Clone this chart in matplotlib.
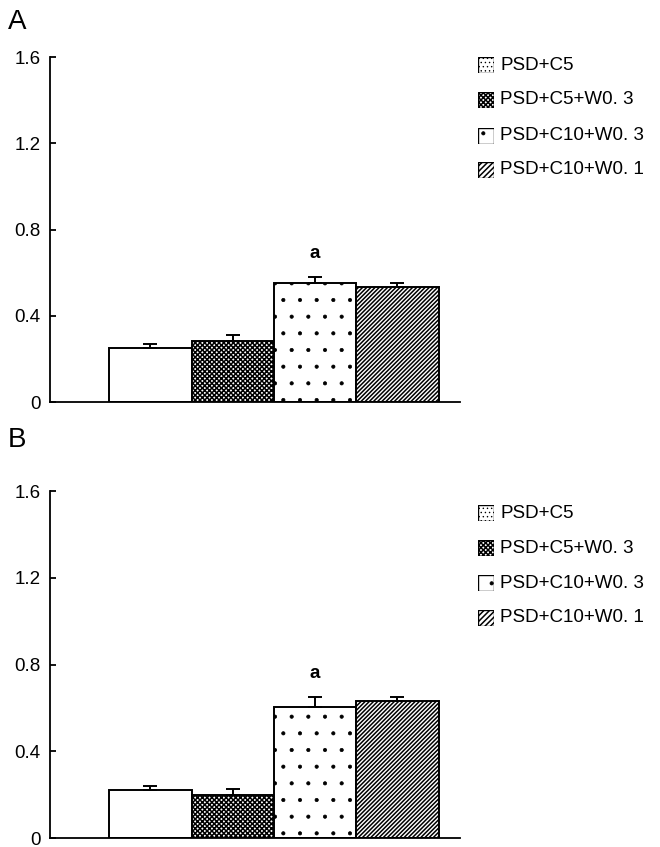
import matplotlib
matplotlib.use("Agg")
import matplotlib.pyplot as plt
import numpy as np

plt.rcParams['font.family'] = ['Liberation Sans', 'DejaVu Sans']
plt.rcParams['hatch.linewidth'] = 1.1

groups = ["PSD+C5", "PSD+C5+W0. 3", "PSD+C10+W0. 3", "PSD+C10+W0. 1"]
bar_hatches = ["", "xxxxxxx", ".", "////////"]
legend_hatches = ["....", "xxxxxxx", ".", "//////"]

values_A = [0.25, 0.284, 0.55, 0.532]
errors_A = [0.02, 0.026, 0.03, 0.021]
values_B = [0.222, 0.20, 0.605, 0.63]
errors_B = [0.018, 0.027, 0.045, 0.02]
sig_label = "a"
sig_index = 2
sig_y_A = 0.69
sig_y_B = 0.76

yticks = [0, 0.4, 0.8, 1.2, 1.6]
yticklabels = ["0", "0.4", "0.8", "1.2", "1.6"]

fig = plt.figure(figsize=(6.6, 8.47), dpi=100)

W, H = 660, 847
def axrect(l, r, b, t):
    return [l / W, 1 - b / H, (r - l) / W, (b - t) / H]

panels = [
    ("A", values_A, errors_A, sig_y_A, axrect(50, 460, 402, 57), 22, [65, 100, 136, 170]),
    ("B", values_B, errors_B, sig_y_B, axrect(50, 460, 838, 491), 440, [513, 548, 583, 618]),
]

def thin_pattern(p, h):
    if h in (".", "....") and hasattr(p, "set_hatch_linewidth"):
        p.set_hatch_linewidth(0.5)

x = np.arange(len(groups))
for label, vals, errs, sig_y, rect, label_y, leg_rows in panels:
    ax = fig.add_axes(rect)
    for i in range(len(groups)):
        bc = ax.bar(x[i], vals[i], width=1.0, color="white", edgecolor="black",
                    linewidth=1.4, hatch=bar_hatches[i], zorder=2)
        for p in bc:
            thin_pattern(p, bar_hatches[i])
    ax.errorbar(x, vals, yerr=[np.zeros(len(vals)), errs], fmt="none",
                ecolor="black", elinewidth=1.4, capsize=5, capthick=1.4, zorder=3)
    ax.text(x[sig_index], sig_y, sig_label, ha="center", va="center",
            fontsize=13.5, fontweight="bold")
    ax.set_xlim(-1.22, 3.76)
    ax.set_ylim(0, 1.6)
    ax.set_yticks(yticks)
    ax.set_yticklabels(yticklabels, fontsize=13.5)
    ax.set_xticks([])
    for s in ["top", "right"]:
        ax.spines[s].set_visible(False)
    ax.spines["left"].set_linewidth(1.3)
    ax.spines["bottom"].set_linewidth(1.3)
    ax.tick_params(axis="y", direction="in", length=4, width=1.3, pad=7)
    fig.text(8 / W, 1 - label_y / H, label, fontsize=20, va="center", ha="left")

    # legend
    for j, g in enumerate(groups):
        yc = 1 - leg_rows[j] / H
        lax = fig.add_axes([478 / W, yc - 8 / H, 16 / W, 16 / H])
        lp = plt.Rectangle((0, 0), 1, 1, facecolor="white", edgecolor="black",
                           linewidth=1.0, hatch=legend_hatches[j])
        thin_pattern(lp, legend_hatches[j])
        lax.add_patch(lp)
        lax.set_xlim(0, 1); lax.set_ylim(0, 1); lax.axis("off")
        fig.text(500 / W, yc, g, fontsize=13.5, va="center", ha="left")

fig.savefig("out.png", dpi=100)
